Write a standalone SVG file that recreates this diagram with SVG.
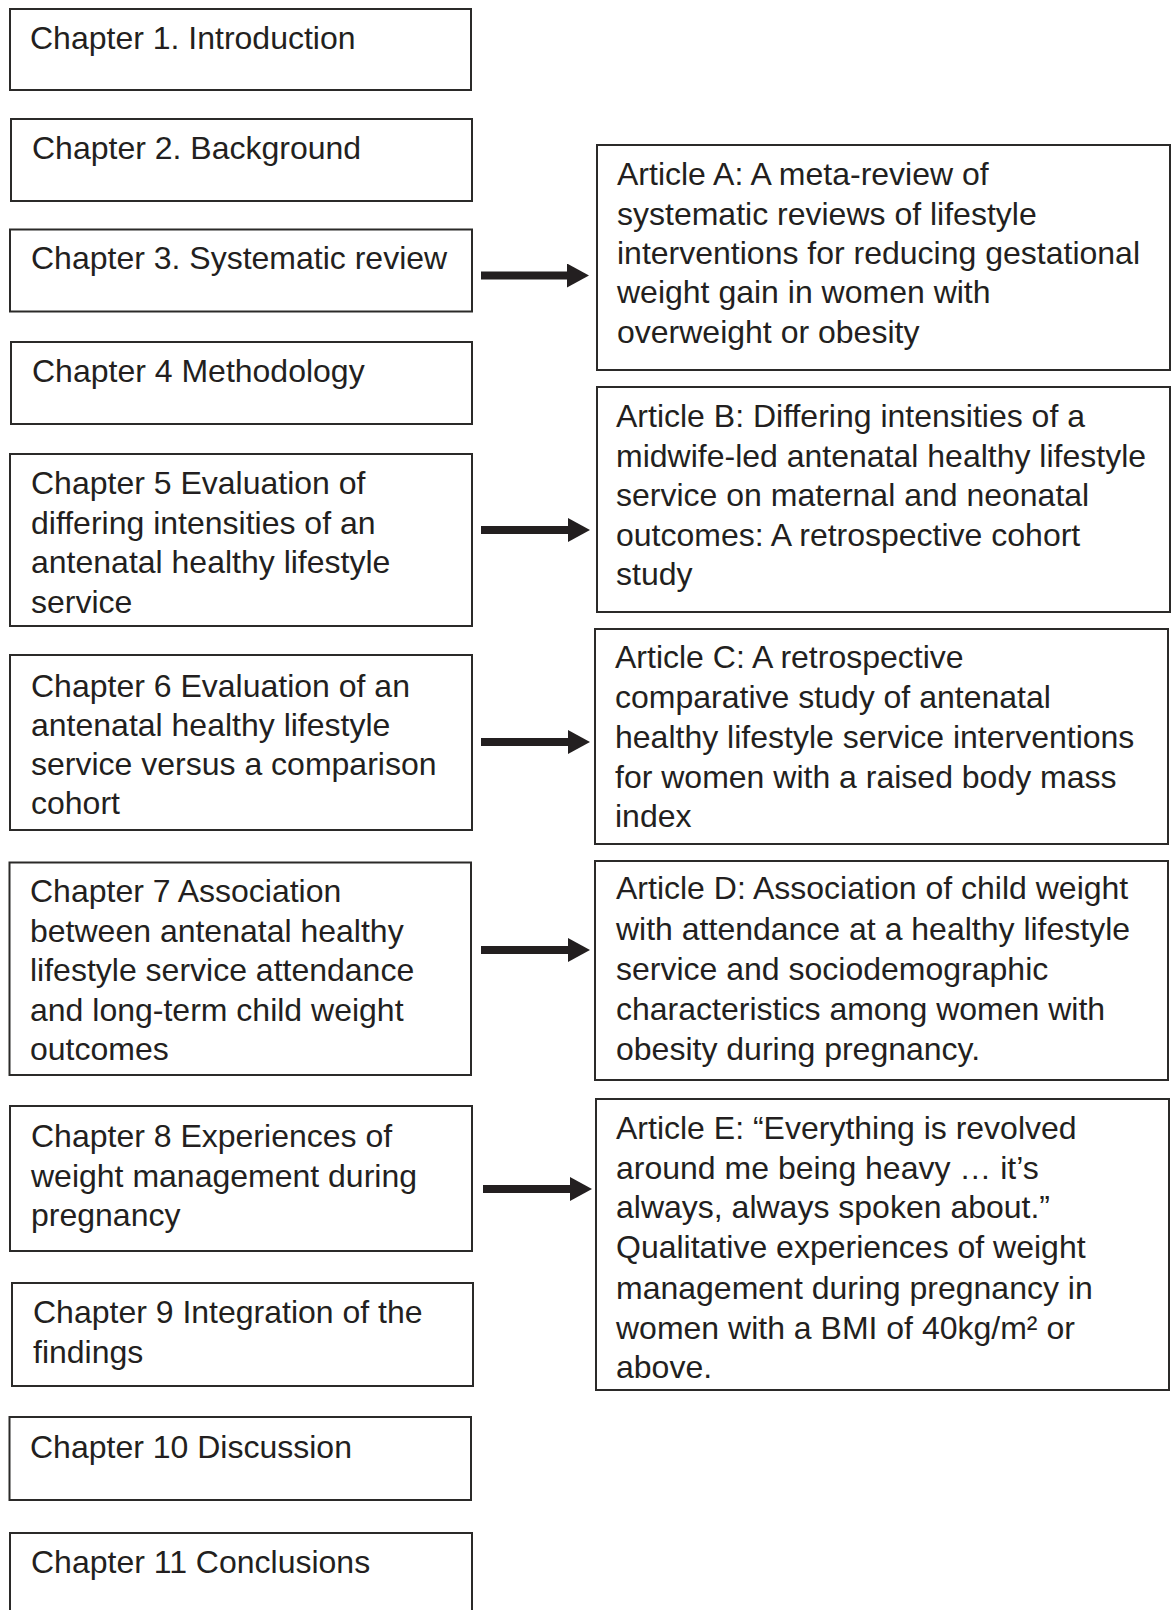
<svg xmlns="http://www.w3.org/2000/svg" width="1173" height="1610" viewBox="0 0 1173 1610">
  <style>
    .box { fill: #ffffff; stroke: #2b2a29; stroke-width: 2; }
    .lbl { font-family: "Liberation Sans", Arial, sans-serif; font-size: 32px; fill: #231f20; }
    .link { stroke: #231f20; stroke-width: 8; fill: none; }
  </style>
  <defs>
    <marker id="head" viewBox="0 0 22 24" markerWidth="22" markerHeight="24" refX="1" refY="12" markerUnits="userSpaceOnUse" orient="auto">
      <path d="M0,0 L22,12 L0,24 Z" fill="#231f20"/>
    </marker>
  </defs>
  <rect width="1173" height="1610" fill="#ffffff"/>

  <!-- Chapters column -->
  <g id="ch1">
    <rect class="box" x="10" y="9" width="461" height="81"/>
    <text class="lbl" x="30" y="49">Chapter 1. Introduction</text>
  </g>
  <g id="ch2">
    <rect class="box" x="11" y="119" width="461" height="82"/>
    <text class="lbl" x="32" y="159">Chapter 2. Background</text>
  </g>
  <g id="ch3">
    <rect class="box" x="10" y="229.5" width="462" height="82"/>
    <text class="lbl" x="31" y="269">Chapter 3. Systematic review</text>
  </g>
  <g id="ch4">
    <rect class="box" x="11" y="342" width="461" height="82"/>
    <text class="lbl" x="32" y="382">Chapter 4 Methodology</text>
  </g>
  <g id="ch5">
    <rect class="box" x="10" y="454" width="462" height="172"/>
    <text class="lbl" x="31">
      <tspan x="31" y="494">Chapter 5 Evaluation of</tspan>
      <tspan x="31" y="533.5">differing intensities of an</tspan>
      <tspan x="31" y="573">antenatal healthy lifestyle</tspan>
      <tspan x="31" y="612.5">service</tspan>
    </text>
  </g>
  <g id="ch6">
    <rect class="box" x="10" y="655" width="462" height="175"/>
    <text class="lbl">
      <tspan x="31" y="697">Chapter 6 Evaluation of an</tspan>
      <tspan x="31" y="736">antenatal healthy lifestyle</tspan>
      <tspan x="31" y="775">service versus a comparison</tspan>
      <tspan x="31" y="814">cohort</tspan>
    </text>
  </g>
  <g id="ch7">
    <rect class="box" x="9.5" y="862.5" width="461.5" height="212.5"/>
    <text class="lbl">
      <tspan x="30" y="902">Chapter 7 Association</tspan>
      <tspan x="30" y="941.5">between antenatal healthy</tspan>
      <tspan x="30" y="981">lifestyle service attendance</tspan>
      <tspan x="30" y="1020.5">and long-term child weight</tspan>
      <tspan x="30" y="1060">outcomes</tspan>
    </text>
  </g>
  <g id="ch8">
    <rect class="box" x="10" y="1106" width="462" height="145"/>
    <text class="lbl">
      <tspan x="31" y="1147">Chapter 8 Experiences of</tspan>
      <tspan x="31" y="1187">weight management during</tspan>
      <tspan x="31" y="1226">pregnancy</tspan>
    </text>
  </g>
  <g id="ch9">
    <rect class="box" x="12" y="1283" width="461" height="103"/>
    <text class="lbl">
      <tspan x="33" y="1323">Chapter 9 Integration of the</tspan>
      <tspan x="33" y="1363">findings</tspan>
    </text>
  </g>
  <g id="ch10">
    <rect class="box" x="9.5" y="1417" width="461.5" height="83"/>
    <text class="lbl" x="30" y="1458">Chapter 10 Discussion</text>
  </g>
  <g id="ch11">
    <rect class="box" x="10" y="1533" width="462" height="90"/>
    <text class="lbl" x="31" y="1573">Chapter 11 Conclusions</text>
  </g>

  <!-- Articles column -->
  <g id="artA">
    <rect class="box" x="597" y="145" width="573" height="225"/>
    <text class="lbl">
      <tspan x="617" y="185">Article A: A meta-review of</tspan>
      <tspan x="617" y="224.5">systematic reviews of lifestyle</tspan>
      <tspan x="617" y="264">interventions for reducing gestational</tspan>
      <tspan x="617" y="303">weight gain in women with</tspan>
      <tspan x="617" y="342.5">overweight or obesity</tspan>
    </text>
  </g>
  <g id="artB">
    <rect class="box" x="597" y="387" width="573" height="225"/>
    <text class="lbl">
      <tspan x="616" y="427">Article B: Differing intensities of a</tspan>
      <tspan x="616" y="466.5">midwife-led antenatal healthy lifestyle</tspan>
      <tspan x="616" y="506">service on maternal and neonatal</tspan>
      <tspan x="616" y="545.5">outcomes: A retrospective cohort</tspan>
      <tspan x="616" y="585">study</tspan>
    </text>
  </g>
  <g id="artC">
    <rect class="box" x="595" y="629" width="573" height="215"/>
    <text class="lbl">
      <tspan x="615" y="668">Article C: A retrospective</tspan>
      <tspan x="615" y="708">comparative study of antenatal</tspan>
      <tspan x="615" y="748">healthy lifestyle service interventions</tspan>
      <tspan x="615" y="788">for women with a raised body mass</tspan>
      <tspan x="615" y="827">index</tspan>
    </text>
  </g>
  <g id="artD">
    <rect class="box" x="595" y="861" width="573" height="219"/>
    <text class="lbl">
      <tspan x="616" y="899">Article D: Association of child weight</tspan>
      <tspan x="616" y="939.5">with attendance at a healthy lifestyle</tspan>
      <tspan x="616" y="980">service and sociodemographic</tspan>
      <tspan x="616" y="1020">characteristics among women with</tspan>
      <tspan x="616" y="1060">obesity during pregnancy.</tspan>
    </text>
  </g>
  <g id="artE">
    <rect class="box" x="596" y="1099" width="573" height="291"/>
    <text class="lbl">
      <tspan x="616" y="1139">Article E: “Everything is revolved</tspan>
      <tspan x="616" y="1178.5">around me being heavy … it’s</tspan>
      <tspan x="616" y="1218">always, always spoken about.”</tspan>
      <tspan x="616" y="1258">Qualitative experiences of weight</tspan>
      <tspan x="616" y="1298.5">management during pregnancy in</tspan>
      <tspan x="616" y="1338.5">women with a BMI of 40kg/m² or</tspan>
      <tspan x="616" y="1378">above.</tspan>
    </text>
  </g>

  <!-- Chapter-to-article connectors -->
  <g id="connectors">
    <line class="link" x1="481" y1="275.5" x2="568" y2="275.5" marker-end="url(#head)"/>
    <line class="link" x1="481" y1="530" x2="569" y2="530" marker-end="url(#head)"/>
    <line class="link" x1="481" y1="742" x2="569" y2="742" marker-end="url(#head)"/>
    <line class="link" x1="481" y1="950" x2="569" y2="950" marker-end="url(#head)"/>
    <line class="link" x1="483" y1="1189" x2="571" y2="1189" marker-end="url(#head)"/>
  </g>
</svg>
